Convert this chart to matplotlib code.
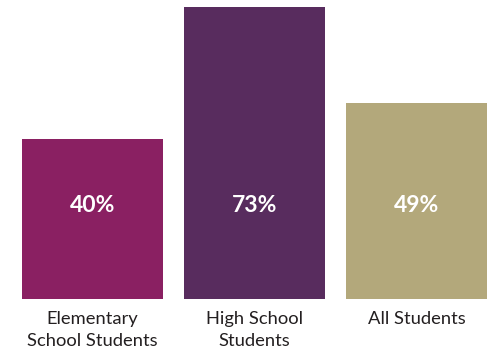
import matplotlib
matplotlib.use("Agg")
import matplotlib.pyplot as plt

categories = ["Elementary\nSchool Students", "High School\nStudents", "All Students"]
values = [40, 73, 49]
colors = ["#8A2062", "#582C5E", "#B3A87B"]

W, H, DPI = 499, 353, 100
fig = plt.figure(figsize=(W / DPI, H / DPI), dpi=DPI)
fig.patch.set_facecolor("white")

base_px = 298.5          # baseline, pixels from top
px_per_unit = 4.0        # vertical scale
step_px = 162.0          # distance between bar centers
first_center_px = 92.5

ax = fig.add_axes([0, (H - base_px) / H, 1, base_px / H])
ax.set_ylim(0, base_px / px_per_unit)
ax.set_xlim(-first_center_px / step_px, (W - first_center_px) / step_px)
ax.axis("off")

x = list(range(len(values)))
ax.bar(x, values, width=141 / step_px, color=colors, linewidth=0)

# value labels sit at a fixed height inside each bar
for xi, v in zip(x, values):
    ax.text(xi, (base_px - 206) / px_per_unit, f"{v}%", ha="center",
            va="center", color="white", fontsize=16.5, fontweight="bold",
            family="Lato")

# category labels, one line at a time below the bars
line_gap_px = 21.7
first_baseline_px = 324
for xi, lab in zip(x, categories):
    for i, line in enumerate(lab.split("\n")):
        y_px = first_baseline_px + i * line_gap_px
        ax.text(xi, -(y_px - base_px) / px_per_unit, line, ha="center",
                va="baseline", color="#231F20", fontsize=13.2, family="Lato",
                clip_on=False)

fig.savefig("out.png", dpi=DPI, facecolor="white")
